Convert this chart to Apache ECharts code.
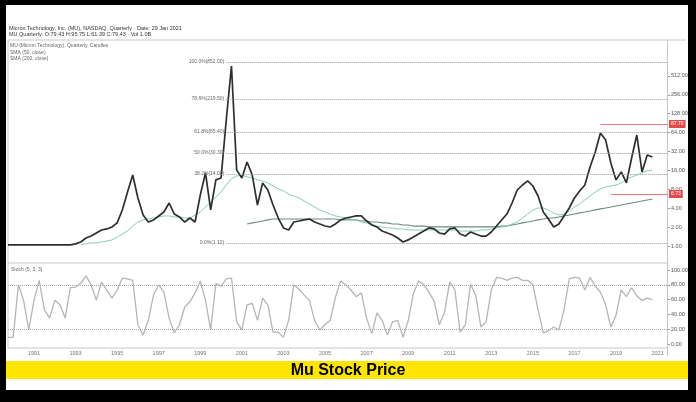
<!DOCTYPE html>
<html><head><meta charset="utf-8">
<script src="https://cdn.jsdelivr.net/npm/echarts@6/dist/echarts.min.js"></script>
<style>html,body{margin:0;padding:0;background:#000}#c{width:696px;height:402px}</style>
</head><body><div id="c"></div>
<script>
// ---- data (quarterly) ----
const startYear = 1989, startQuarter = 4, quarterCount = 128;
const categories = [];
for (let k = 0; k < quarterCount; k++) {
  const q = startQuarter - 1 + k;
  categories.push((startYear + Math.floor(q / 4)) + ' Q' + (q % 4 + 1));
}
const price = [1.04,1.04,1.04,1.04,1.04,1.04,1.04,1.04,1.04,1.04,1.04,1.04,1.04,
  1.08,1.16,1.34,1.44,1.61,1.80,1.87,2.01,2.33,3.75,
  7.25,13.5,5.82,3.12,2.41,2.60,3.01,3.48,4.84,3.23,
  2.90,2.41,2.79,2.41,6.49,14.6,3.75,11.3,12.1,102,
  736,16.2,12.1,21.8,13.5,4.50,10.1,7.80,4.50,2.79,
  1.94,1.80,2.41,2.50,2.60,2.69,2.41,2.24,2.08,2.01,
  2.24,2.60,2.79,2.90,3.01,3.01,2.50,2.16,2.01,1.73,
  1.61,1.50,1.34,1.16,1.25,1.39,1.55,1.73,1.94,1.87,
  1.61,1.55,1.87,1.94,1.55,1.44,1.67,1.55,1.44,1.44,
  1.67,2.08,2.60,3.23,4.84,7.80,9.37,10.9,9.03,6.26,
  3.48,2.69,2.01,2.24,3.01,4.03,5.82,7.52,9.37,18.1,
  31.4,63.1,48.8,21.0,11.3,15.1,10.1,25.2,58.6,15.1,
  28.1,26.2];
const smaFast = [null,null,null,null,null,null,null,null,null,null,null,null,null,null,
  1.04,1.08,1.12,1.12,1.16,1.20,1.25,1.39,1.55,1.73,
  2.08,2.41,2.60,2.69,2.79,2.90,3.01,3.01,2.90,2.90,
  2.79,2.79,3.12,3.48,4.18,5.02,6.03,7.25,9.37,11.7,
  13.0,13.5,12.6,12.1,11.3,10.9,10.1,9.03,8.09,7.52,
  6.74,6.26,5.82,5.21,4.67,4.18,3.75,3.48,3.23,3.01,
  2.90,2.79,2.69,2.60,2.41,2.33,2.24,2.08,2.01,1.94,
  1.94,1.87,1.87,1.80,1.80,1.80,1.80,1.80,1.80,1.80,
  1.80,1.80,1.80,1.73,1.73,1.73,1.73,1.80,1.80,1.87,
  1.94,2.01,2.08,2.24,2.41,2.79,3.23,3.75,4.03,4.03,
  3.75,3.36,3.12,3.23,3.61,4.18,4.67,5.41,6.26,7.25,
  8.09,8.71,9.03,9.37,10.1,11.3,12.6,13.5,14.6,15.7,
  16.2];
const smaSlow = [null,null,null,null,null,null,null,null,null,null,
  null,null,null,null,null,null,null,null,null,null,
  null,null,null,null,null,null,null,null,null,null,
  null,null,null,null,null,null,null,null,null,null,
  null,null,null,null,null,null,
  2.24,2.33,2.41,2.50,2.60,
  2.69,2.69,2.69,2.69,2.69,2.69,2.69,2.69,2.69,2.69,2.69,2.69,2.69,
  2.60,2.60,2.60,2.60,
  2.50,2.50,2.41,2.41,2.33,2.33,2.24,2.24,2.16,2.16,2.08,2.08,2.08,
  2.01,2.01,2.01,2.01,2.01,2.01,2.01,2.01,2.01,2.01,2.01,2.01,2.01,2.01,
  2.08,2.08,2.16,2.24,2.33,2.41,2.50,2.60,2.69,2.79,2.79,2.90,3.01,3.12,3.23,
  3.36,3.48,3.61,3.75,3.89,4.03,4.18,4.34,4.50,4.67,4.84,5.02,5.21,5.41,5.61];
const stoch = [9,9,80,59,19,59,86,46,35,59,
  53,35,76,77,82,92,80,59,84,73,
  62,73,89,88,86,26,12,32,66,80,
  70,35,15,26,50,57,69,85,59,19,
  82,78,88,89,30,19,53,55,32,62,
  53,16,16,9,32,80,74,66,59,32,
  19,26,32,63,85,80,73,64,69,35,
  14,42,32,12,30,32,9,31,68,85,
  80,70,58,26,43,84,73,16,26,81,
  66,23,30,73,90,89,86,89,90,86,
  86,80,46,15,18,23,19,46,88,90,
  89,73,90,78,70,53,23,39,73,64,
  76,65,59,62,60];
const fibLabels = ['100.0%(852.00)', '78.6%(219.50)', '61.8%(65.40)', '50.0%(30.30)', '38.2%(14.00)', '0.0%(1.12)'];
const fibValues = [852, 219.5, 65.4, 30.3, 14.0, 1.12];
const fibStartIndex = 42;
const redLevels = [87.7, 6.73];
const redStartIndex = [114, 116];
const stochLevels = [80, 20];

// ---- chart ----
const chart = echarts.init(document.getElementById('c'), null, {renderer: 'canvas'});
const last = categories[quarterCount - 1];
const smallFont = 'Liberation Sans';
const fibLines = fibValues.map((v, k) => [
  {coord: [categories[fibStartIndex], v],
   lineStyle: {type: 'dotted', color: '#9a9a9a', width: 1},
   label: {show: true, position: 'start', formatter: fibLabels[k], fontSize: 5, color: '#666', distance: 2, fontFamily: smallFont}},
  {coord: [last, v]}
]);
const redLines = redLevels.map((v, k) => [
  {coord: [categories[redStartIndex[k]], v],
   lineStyle: {type: 'solid', color: '#e27a7a', width: 1},
   label: {show: true, position: 'end', formatter: v.toFixed(2), fontSize: 5, color: '#fff',
           backgroundColor: '#e04b4b', padding: [1.5, 2], distance: 1, fontFamily: smallFont}},
  {coord: [last, v]}
]);
const frame = '#c8c8c8';
const option = {
  backgroundColor: '#000',
  animation: false,
  graphic: {elements: [
    {type: 'rect', z: -10, shape: {x: 6, y: 5, width: 682, height: 385}, style: {fill: '#fff'}},
    {type: 'line', shape: {x1: 8, y1: 40, x2: 686, y2: 40}, style: {stroke: frame, lineWidth: 1}},
    {type: 'line', shape: {x1: 8, y1: 40, x2: 8, y2: 348}, style: {stroke: frame, lineWidth: 1}},
    {type: 'line', shape: {x1: 667.5, y1: 40, x2: 667.5, y2: 356}, style: {stroke: frame, lineWidth: 1}},
    {type: 'line', shape: {x1: 8, y1: 263, x2: 667, y2: 263}, style: {stroke: frame, lineWidth: 1}},
    {type: 'line', shape: {x1: 8, y1: 348, x2: 667, y2: 348}, style: {stroke: frame, lineWidth: 1}},
    {type: 'text', style: {x: 9, y: 25, text: 'Micron Technology, Inc. (MU), NASDAQ, Quarterly · Date: 29 Jan 2021', font: '5.5px ' + smallFont, fill: '#333'}},
    {type: 'text', style: {x: 9, y: 31, text: 'MU Quarterly: O:79.43 H:95.75 L:61.39 C:79.43 · Vol 1.0B', font: '5.5px ' + smallFont, fill: '#333'}},
    {type: 'text', style: {x: 10, y: 43, text: 'MU (Micron Technology), Quarterly, Candles', font: '5px ' + smallFont, fill: '#666'}},
    {type: 'text', style: {x: 10, y: 50, text: 'SMA (50, close)', font: '5px ' + smallFont, fill: '#666'}},
    {type: 'text', style: {x: 10, y: 56, text: 'SMA (200, close)', font: '5px ' + smallFont, fill: '#666'}},
    {type: 'text', style: {x: 11, y: 267, text: 'Stoch (5, 3, 3)', font: '5px ' + smallFont, fill: '#666'}},
    {type: 'rect', shape: {x: 6, y: 361, width: 682, height: 18}, style: {fill: '#ffe600'}},
    {type: 'text', style: {x: 348, y: 370.5, text: 'Mu Stock Price', font: 'bold 16px "Liberation Sans"', fill: '#000', align: 'center', verticalAlign: 'middle'}}
  ]},
  grid: [
    {left: 8, right: 28, top: 60, bottom: 154},
    {left: 8, right: 28, top: 270, bottom: 58}
  ],
  xAxis: [
    {type: 'category', gridIndex: 0, data: categories, boundaryGap: false,
     axisLine: {show: false}, axisTick: {show: false}, axisLabel: {show: false}, splitLine: {show: false}},
    {type: 'category', gridIndex: 1, data: categories, boundaryGap: false,
     axisLine: {show: false}, axisTick: {show: false}, splitLine: {show: false},
     axisLabel: {
       interval: (idx, val) => /Q1$/.test(val) && parseInt(val, 10) % 2 === 1,
       formatter: v => v.slice(0, 4), fontSize: 5.5, color: '#777', margin: 6, fontFamily: smallFont}}
  ],
  yAxis: [
    {type: 'log', logBase: 2, gridIndex: 0, position: 'right', min: 0.9293, max: 917.4, splitNumber: 10,
     axisLine: {show: false}, splitLine: {show: false},
     axisTick: {show: true, length: 2, lineStyle: {color: '#999'}},
     axisLabel: {fontSize: 5.5, color: '#555', margin: 3, showMinLabel: false, showMaxLabel: false,
       fontFamily: smallFont, formatter: v => (Math.round(v * 100) / 100).toFixed(2)}},
    {type: 'value', gridIndex: 1, position: 'right', min: 0, max: 100, interval: 20,
     axisLine: {show: false}, splitLine: {show: false},
     axisTick: {show: true, length: 2, lineStyle: {color: '#999'}},
     axisLabel: {fontSize: 5.5, color: '#555', margin: 3, fontFamily: smallFont, formatter: v => v.toFixed(2)}}
  ],
  series: [
    {name: 'SMA 200', type: 'line', xAxisIndex: 0, yAxisIndex: 0, data: smaSlow, symbol: 'none',
     lineStyle: {color: '#6e8b7c', width: 1.2}, z: 3},
    {name: 'SMA 50', type: 'line', xAxisIndex: 0, yAxisIndex: 0, data: smaFast, symbol: 'none',
     lineStyle: {color: '#86cdbb', width: 1}, z: 3},
    {name: 'MU', type: 'line', xAxisIndex: 0, yAxisIndex: 0, data: price, symbol: 'none',
     lineStyle: {color: '#2e2e2e', width: 1.7}, z: 4,
     markLine: {symbol: ['none', 'none'], silent: true, animation: false, data: fibLines.concat(redLines)}},
    {name: 'Stoch', type: 'line', xAxisIndex: 1, yAxisIndex: 1, data: stoch, symbol: 'none',
     lineStyle: {color: '#b5b5b5', width: 1.3}, z: 3,
     markLine: {symbol: ['none', 'none'], silent: true, animation: false, label: {show: false},
       lineStyle: {type: 'dotted', color: '#aaa', width: 1},
       data: stochLevels.map(v => ({yAxis: v}))}}
  ]
};
chart.setOption(option);
</script></body></html>
